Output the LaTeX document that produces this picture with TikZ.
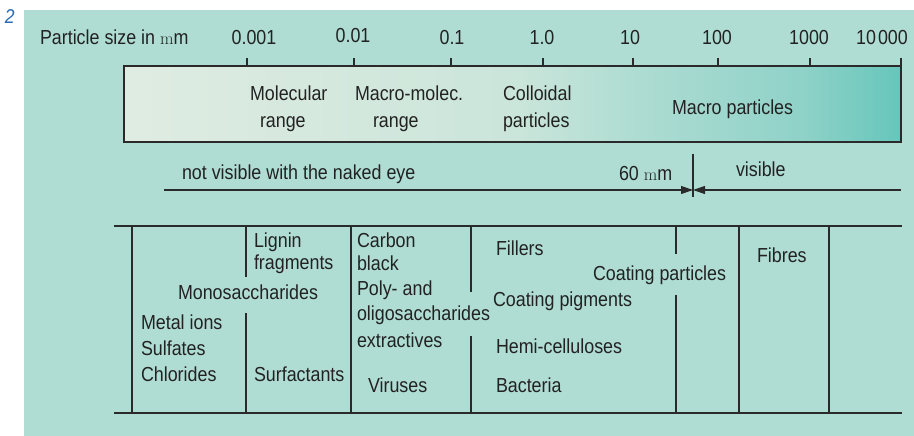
\documentclass[tikz,border=0pt]{standalone}
\usepackage{fontspec}
\setsansfont{Liberation Sans}[FakeStretch=0.88]
\usetikzlibrary{arrows.meta}
\definecolor{bg}{HTML}{AFDDD3}
\definecolor{txt}{HTML}{222222}
\definecolor{ln}{HTML}{2A2A2A}
\definecolor{fignum}{HTML}{2A6BB5}
\definecolor{g1}{HTML}{DFECE2}
\definecolor{g2}{HTML}{CAE5DA}
\definecolor{g3}{HTML}{ADDCD2}
\definecolor{g4}{HTML}{90D2C8}
\definecolor{g5}{HTML}{66C6BB}
\newcommand{\serm}{{\rmfamily\fontsize{17.5}{20}\selectfont m}}
\begin{document}
\begin{tikzpicture}[x=1pt,y=-1pt,
  lbl/.style={inner sep=0pt, outer sep=0pt, anchor=base west, text=txt,
    font=\sffamily\fontsize{20.3}{22}\selectfont},
  num/.style={lbl, anchor=base},
  rule/.style={draw=ln, line width=1.6pt},
  tick/.style={draw=ln, line width=1.5pt},
  arr/.style={draw=ln, line width=1.1pt, -{Triangle[length=12pt,width=8pt]}}]
\useasboundingbox (0,0) rectangle (914,436);
% panel
\fill[bg] (24,10) rectangle (914,436);
\node[lbl, text=fignum, font=\sffamily\itshape\fontsize{20}{22}\selectfont] (fig) at (5,24) {2};
% scale labels
\node[lbl] (ps) at (40,45) {Particle size in \serm m};
\node[num] (n1) at (254,45) {0.001};
\node[num] (n2) at (353,43) {0.01};
\node[num] (n3) at (452,45) {0.1};
\node[num] (n4) at (542,45) {1.0};
\node[num] (n5) at (630,45) {10};
\node[num] (n6) at (717,45) {100};
\node[num] (n7) at (809,45) {1000};
\node[num] (n8) at (882,45) {10\kern2pt000};
% gradient bar
\shade[left color=g1, right color=g2] (124,66) rectangle (520,142);
\shade[left color=g2, right color=g3] (519.5,66) rectangle (640,142);
\shade[left color=g3, right color=g4] (639.5,66) rectangle (800,142);
\shade[left color=g4, right color=g5] (799.5,66) rectangle (901,142);
\draw[draw=ln, line width=1.4pt] (124,66) rectangle (901,142);
\foreach \x in {247,354,451,543,633,718,810,901} \draw[tick] (\x,58) -- (\x,66);
\node[lbl] (mol1) at (250,100) {Molecular};
\node[lbl] (mol2) at (260,128) {range};
\node[lbl] (mm1) at (355,100) {Macro-molec.};
\node[lbl] (mm2) at (373,128) {range};
\node[lbl] (col1) at (503,101) {Colloidal};
\node[lbl] (col2) at (503,128) {particles};
\node[lbl] (mac) at (672,114) {Macro particles};
% visibility
\node[lbl] (nv) at (182,179) {not visible with the naked eye};
\node[lbl] (sixty) at (619,180) {60 \serm m};
\node[lbl] (vis) at (736,176) {visible};
\coordinate (lA) at (164,190);
\coordinate (mid) at (693,190);
\coordinate (rA) at (901,190);
\draw[draw=ln, line width=1.5pt] (693,154) -- (693,197);
\draw[arr] (lA) -- (mid);
\draw[arr] (rA) -- (mid);
% table
\draw[rule] (114,226) -- (902,226);
\draw[rule] (114,413) -- (902,413);
\draw[rule] (132,226) -- (132,413);
\draw[rule] (246,226) -- (246,277);
\draw[rule] (246,313) -- (246,413);
\draw[rule] (351,226) -- (351,413);
\draw[rule] (471,226) -- (471,292);
\draw[rule] (471,336) -- (471,413);
\draw[rule] (676,226) -- (676,254);
\draw[rule] (676,295) -- (676,413);
\draw[rule] (739,226) -- (739,413);
\draw[rule] (829,226) -- (829,413);
% table texts
\node[lbl] (lig1) at (254,247) {Lignin};
\node[lbl] (lig2) at (254,269) {fragments};
\node[lbl] (mono) at (178,299) {Monosaccharides};
\node[lbl] (met) at (141,329) {Metal ions};
\node[lbl] (sul) at (141,355) {Sulfates};
\node[lbl] (chl) at (141,381) {Chlorides};
\node[lbl] (surf) at (254,381) {Surfactants};
\node[lbl] (cb1) at (357,247) {Carbon};
\node[lbl] (cb2) at (357,270) {black};
\node[lbl] (po1) at (357,295) {Poly- and};
\node[lbl] (po2) at (357,320) {oligosaccharides};
\node[lbl] (ext) at (357,347) {extractives};
\node[lbl] (vir) at (368,392) {Viruses};
\node[lbl] (fil) at (496,255) {Fillers};
\node[lbl] (cpa) at (593,280) {Coating particles};
\node[lbl] (cpi) at (493,306) {Coating pigments};
\node[lbl] (hem) at (496,353) {Hemi-celluloses};
\node[lbl] (bac) at (496,392) {Bacteria};
\node[lbl] (fib) at (757,262) {Fibres};
\end{tikzpicture}
\end{document}
